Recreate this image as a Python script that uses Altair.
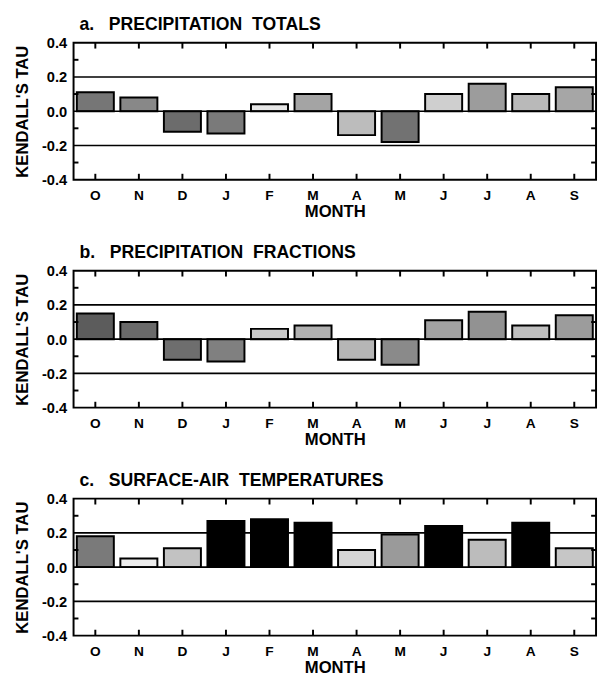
import altair as alt
import pandas as pd

months = ["O", "N", "D", "J", "F", "M", "A", "M", "J", "J", "A", "S"]
keys = ["O", "N", "D", "J1", "F", "M1", "A1", "M2", "J2", "J3", "A2", "S"]

NB = "\u00a0"
titles = [
    "a." + NB * 3 + "PRECIPITATION" + NB * 2 + "TOTALS",
    "b." + NB * 3 + "PRECIPITATION" + NB * 2 + "FRACTIONS",
    "c." + NB * 3 + "SURFACE-AIR" + NB * 2 + "TEMPERATURES",
]

tau_totals = [0.11, 0.08, -0.12, -0.13, 0.04, 0.10, -0.14, -0.18, 0.10, 0.16, 0.10, 0.14]
tau_fractions = [0.15, 0.10, -0.12, -0.13, 0.06, 0.08, -0.12, -0.15, 0.11, 0.16, 0.08, 0.14]
tau_temps = [0.18, 0.05, 0.11, 0.27, 0.28, 0.26, 0.10, 0.19, 0.24, 0.16, 0.26, 0.11]

shade_totals = ["#767676", "#888888", "#6c6c6c", "#7a7a7a", "#e6e6e6", "#a4a4a4",
                "#bcbcbc", "#727272", "#cfcfcf", "#9c9c9c", "#b9b9b9", "#a6a6a6"]
shade_fractions = ["#5c5c5c", "#6a6a6a", "#6e6e6e", "#808080", "#cacaca", "#b0b0b0",
                   "#b6b6b6", "#8a8a8a", "#a2a2a2", "#929292", "#bfbfbf", "#9c9c9c"]
shade_temps = ["#7a7a7a", "#ececec", "#c2c2c2", "#000000", "#000000", "#000000",
               "#d6d6d6", "#9a9a9a", "#000000", "#bcbcbc", "#000000", "#c6c6c6"]

y_labels = [-0.4, -0.2, 0.0, 0.2, 0.4]
ref_lines = [-0.2, 0.0, 0.2]
minor_ticks = [-0.3, -0.1, 0.1, 0.3]

W = 534
H = 140
FONT = "Liberation Sans"

series = [tau_totals, tau_fractions, tau_temps]
shades = [shade_totals, shade_fractions, shade_temps]


def panel(title, vals, cols):
    df = pd.DataFrame({"key": keys, "month": months, "tau": vals, "shade": cols})
    ticks_df = pd.DataFrame({"t": minor_ticks})
    lines_df = pd.DataFrame({"r": ref_lines})
    xscale = alt.Scale(domain=keys, paddingInner=0.15, paddingOuter=0.075)
    yscale = alt.Scale(domain=[-0.4, 0.4], nice=False)
    xaxis = alt.Axis(
        title="MONTH", labelExpr="substring(datum.label, 0, 1)", labelAngle=0,
        labelFont=FONT, labelFontSize=14, labelFontWeight="bold", labelColor="black",
        labelPadding=9, ticks=False, domain=False,
        titleFont=FONT, titleFontSize=17, titleFontWeight="bold", titleColor="black",
        titlePadding=2,
    )
    yaxis = alt.Axis(
        title="KENDALL'S TAU", values=y_labels, labelOverlap=False,
        labelExpr="datum.value == 0 ? '0.0' : (datum.value < 0 ? '-' : '') + format(abs(datum.value), '.1f')",
        labelFont=FONT, labelFontSize=15, labelFontWeight="bold", labelColor="black",
        labelPadding=7, ticks=False, domain=False, grid=False,
        titleFont=FONT, titleFontSize=17, titleFontWeight="bold", titleColor="black",
        titlePadding=10,
    )
    bars = alt.Chart(df).mark_bar(stroke="black", strokeWidth=2).encode(
        x=alt.X("key:N", sort=keys, scale=xscale, axis=xaxis),
        y=alt.Y("tau:Q", scale=yscale, axis=yaxis),
        y2=alt.datum(0),
        color=alt.Color("shade:N", scale=None),
    )
    lines = alt.Chart(lines_df).mark_rule(color="black", strokeWidth=1.6).encode(
        y=alt.Y("r:Q", scale=yscale, axis=yaxis),
    )
    top_ticks = alt.Chart(df).mark_rule(color="black", strokeWidth=2).encode(
        x=alt.X("key:N", sort=keys, scale=xscale, axis=xaxis),
        y=alt.value(0), y2=alt.value(6),
    )
    bot_ticks = alt.Chart(df).mark_rule(color="black", strokeWidth=2).encode(
        x=alt.X("key:N", sort=keys, scale=xscale, axis=xaxis),
        y=alt.value(H), y2=alt.value(H - 6),
    )
    left_ticks = alt.Chart(ticks_df).mark_rule(color="black", strokeWidth=2).encode(
        y=alt.Y("t:Q", scale=yscale, axis=yaxis),
        x=alt.value(0), x2=alt.value(5),
    )
    right_ticks = alt.Chart(ticks_df).mark_rule(color="black", strokeWidth=2).encode(
        y=alt.Y("t:Q", scale=yscale, axis=yaxis),
        x=alt.value(W - 5), x2=alt.value(W),
    )
    return alt.layer(bars, lines, top_ticks, bot_ticks, left_ticks, right_ticks).properties(
        width=W, height=H,
        title=alt.TitleParams(
            text=title, anchor="start", frame="group", font=FONT, fontSize=18,
            fontWeight="bold", color="black", offset=2, dx=6,
        ),
    )


chart = alt.vconcat(
    *[panel(t, v, c) for t, v, c in zip(titles, series, shades)], spacing=23
).properties(
    padding={"left": 5, "top": 0, "right": 0, "bottom": 0}, background="white"
).configure_view(stroke="black", strokeWidth=2)

chart.save("out.html", embed_options={"renderer": "svg", "actions": False})
